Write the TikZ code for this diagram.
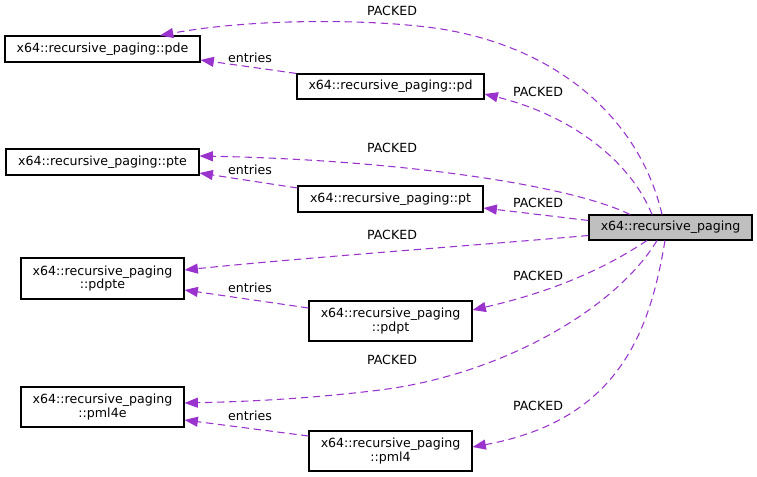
\documentclass[tikz,border=0pt]{standalone}
\usepackage{fontspec}
\setmainfont{DejaVu Sans}
\usetikzlibrary{arrows.meta,calc}
\definecolor{edgecol}{RGB}{154,50,205}
\definecolor{mainfill}{RGB}{191,191,191}
\begin{document}
\begin{tikzpicture}[x=0.75pt,y=-0.75pt,
  box/.style={draw=black,line width=0.8pt,fill=white,inner sep=0pt,align=center,font=\fontsize{9.45}{10}\selectfont},
  link/.style={draw=edgecol,line width=0.8pt,dash pattern=on 5.5pt off 3.5pt,-{Triangle[length=10pt,width=7.5pt]}},
  lbl/.style={inner sep=0pt,font=\fontsize{9.45}{10}\selectfont}]
\useasboundingbox (0,0) rectangle (757,477);
% nodes
\node[box,minimum width=146.25pt,minimum height=19.5pt] (pde) at (102.5,49) {x64::recursive\_paging::pde};
\node[box,minimum width=140.25pt,minimum height=18.75pt] (pd) at (390.5,86.5) {x64::recursive\_paging::pd};
\node[box,minimum width=144.75pt,minimum height=19.5pt] (pte) at (102.5,162) {x64::recursive\_paging::pte};
\node[box,minimum width=138.75pt,minimum height=19.5pt] (pt) at (390.5,199) {x64::recursive\_paging::pt};
\node[box,fill=mainfill,minimum width=122.25pt,minimum height=18.75pt] (main) at (670.5,227.5) {x64::recursive\_paging};
\node[box,minimum width=122.25pt,minimum height=30.75pt] (pdpte) at (102.5,278.5) {x64::recursive\_paging\\::pdpte};
\node[box,minimum width=122.25pt,minimum height=30pt] (pdpt) at (390.5,321) {x64::recursive\_paging\\::pdpt};
\node[box,minimum width=122.25pt,minimum height=30pt] (pml4e) at (102.5,407) {x64::recursive\_paging\\::pml4e};
\node[box,minimum width=122.25pt,minimum height=30pt] (pml4) at (390.5,451) {x64::recursive\_paging\\::pml4};
% edges from main
\draw[link] ($(main.north)+(-8.5,0)$) .. controls (640,120) and (560,50) .. (447,30) .. controls (387,19.4) and (260,17) .. ($(pde.north)+(57.5,0)$);
\draw[link] ($(main.north)+(-18.5,0)$) .. controls (630,160) and (570,115) .. ($(pd.east)+(0,7.5)$);
\draw[link] ($(main.north)+(-40.5,0)$) .. controls (570,185) and (400,160) .. ($(pte.east)+(0,-6)$);
\draw[link] ($(main.west)+(0,-7)$) -- ($(pt.east)+(0,9)$);
\draw[link] ($(main.west)+(0,8)$) .. controls (480,245) and (300,258) .. ($(pdpte.east)+(0,-8.5)$);
\draw[link] ($(main.south)+(-23.5,0)$) .. controls (610,265) and (560,290) .. ($(pdpt.east)+(0,-11)$);
\draw[link] ($(main.south)+(-13.5,0)$) .. controls (615,310) and (500,375) .. (380,390) .. controls (300,400) and (230,402) .. ($(pml4e.east)+(0,-4)$);
\draw[link] ($(main.south)+(-5.5,0)$) .. controls (650,330) and (620,420) .. ($(pml4.east)+(0,-4)$);
% entries edges
\draw[link] (pd.north west) -- ($(pde.east)+(0,11)$);
\draw[link] ($(pt.west)+(0,-11)$) -- ($(pte.east)+(0,11)$);
\draw[link] ($(pdpt.west)+(0,-13)$) -- ($(pdpte.east)+(0,11.5)$);
\draw[link] ($(pml4.west)+(0,-15)$) -- ($(pml4e.east)+(0,13)$);
% labels
\node[lbl] (l1) at (392,11) {PACKED};
\node[lbl] (l2) at (538,92) {PACKED};
\node[lbl] (l3) at (392,148) {PACKED};
\node[lbl] (l4) at (538,203) {PACKED};
\node[lbl] (l5) at (392,235) {PACKED};
\node[lbl] (l6) at (538,276) {PACKED};
\node[lbl] (l7) at (392,360) {PACKED};
\node[lbl] (l8) at (538,406) {PACKED};
\node[lbl] (e1) at (250,58) {entries};
\node[lbl] (e2) at (250,170) {entries};
\node[lbl] (e3) at (250,288) {entries};
\node[lbl] (e4) at (250,416) {entries};
\end{tikzpicture}
\end{document}
